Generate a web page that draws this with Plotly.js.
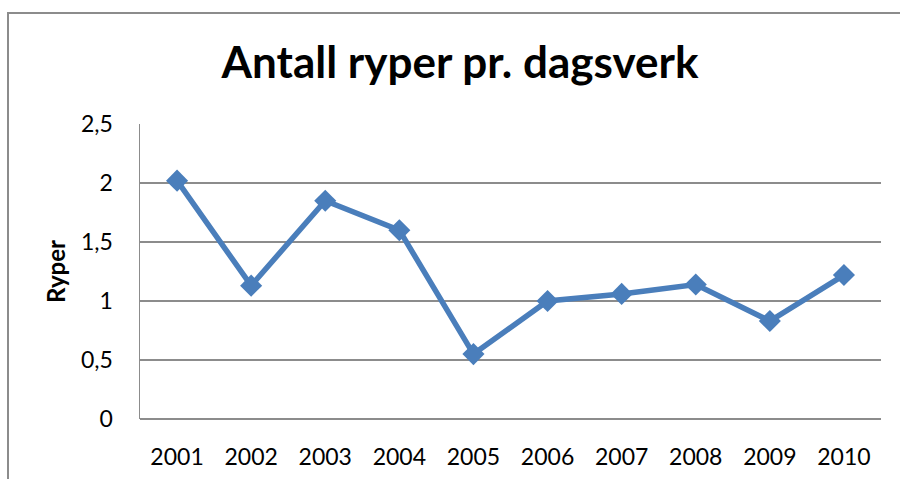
<!DOCTYPE html>
<html>
<head>
<meta charset="utf-8">
<script src="https://cdn.plot.ly/plotly-3.0.1.min.js"></script>
<style>
  html, body { margin: 0; padding: 0; background: #fff; overflow: hidden; }
  #wrap { position: relative; width: 900px; height: 479px; }
  #chart { width: 900px; height: 479px; }
  #frame { position: absolute; left: 7px; top: 12px; width: 1000px; height: 1000px;
           border: 2px solid #8c8c8c; box-sizing: border-box; pointer-events: none; }
</style>
</head>
<body>
<div id="wrap">
  <div id="chart"></div>
  <div id="frame"></div>
</div>
<script>
const years = ['2001','2002','2003','2004','2005','2006','2007','2008','2009','2010'];
const ryper = [2.02, 1.13, 1.85, 1.60, 0.55, 1.00, 1.06, 1.14, 0.83, 1.22];
const yTickVals = [0, 0.5, 1, 1.5, 2, 2.5];
const yTickText = ['0', '0,5', '1', '1,5', '2', '2,5'];

const FONT = 'Lato, "Open Sans", "Liberation Sans", sans-serif';

Plotly.newPlot('chart', [{
  x: years,
  y: ryper,
  type: 'scatter',
  mode: 'lines+markers',
  line: { color: '#4A7EBB', width: 5.5 },
  marker: { symbol: 'diamond', size: 17, color: '#4A7EBB' },
  hoverinfo: 'skip'
}], {
  width: 900, height: 479,
  margin: { l: 140, r: 19, t: 124, b: 60, pad: 0 },
  paper_bgcolor: 'rgba(0,0,0,0)',
  plot_bgcolor: '#fff',
  showlegend: false,
  separators: ',.',
  title: {
    text: '<b>Antall ryper pr. dagsverk</b>',
    font: { family: FONT, size: 44, color: '#000' },
    x: 460 / 900, xanchor: 'center', xref: 'container',
    y: 1 - 63 / 479, yanchor: 'middle', yref: 'container'
  },
  xaxis: {
    type: 'category',
    range: [-0.5, years.length - 0.5],
    autorange: false,
    showgrid: false,
    showline: false,
    zeroline: false,
    ticks: '',
    tickfont: { family: FONT, size: 23, color: '#000' },
    ticklabelstandoff: 22
  },
  yaxis: {
    range: [0, 2.5],
    autorange: false,
    tickvals: yTickVals,
    ticktext: yTickText,
    showgrid: true,
    gridcolor: '#8c8c8c',
    gridwidth: 1.5,
    zeroline: true,
    zerolinecolor: '#8c8c8c',
    zerolinewidth: 1.5,
    showline: true,
    linecolor: '#8c8c8c',
    linewidth: 1.5,
    ticks: '',
    tickfont: { family: FONT, size: 23, color: '#000' },
    ticklabelstandoff: 21,
    title: {
      text: '<b>Ryper</b>',
      font: { family: FONT, size: 24, color: '#000' },
      standoff: 8
    }
  }
}, { displayModeBar: false, staticPlot: true });
</script>
</body>
</html>
